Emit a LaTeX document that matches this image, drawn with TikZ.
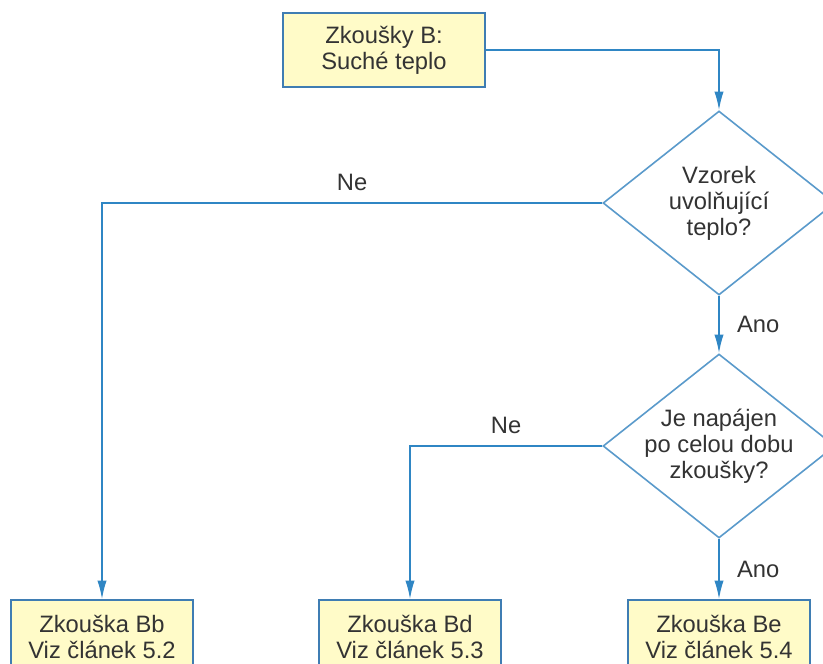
\documentclass[tikz,border=0pt]{standalone}
\usepackage{fontspec}
\setmainfont{Liberation Sans}
\usetikzlibrary{arrows.meta, shapes.geometric}
\definecolor{boxfill}{HTML}{FFFBC8}
\definecolor{boxline}{HTML}{3F7DB3}
\definecolor{dialine}{HTML}{5A9ACB}
\definecolor{flowline}{HTML}{2F86C4}
\definecolor{txtcolor}{HTML}{333333}

\begin{document}
\begin{tikzpicture}[
    x=0.75pt, y=-0.75pt,
    every node/.style={font=\fontsize{17.8pt}{19.5pt}\selectfont, text=txtcolor},
    testbox/.style={draw=boxline, fill=boxfill, line width=1.2pt, minimum width=136.5pt,
        minimum height=55.5pt, align=center, inner sep=0pt},
    question/.style={draw=dialine, fill=white, diamond, line width=1.2pt, minimum width=174pt,
        minimum height=138pt, inner sep=0pt},
    qtext/.style={align=center, inner sep=0pt},
    flow/.style={draw=flowline, line width=1.2pt, -{Latex[length=14pt, width=7pt]}},
    answer/.style={inner sep=2pt}
]
  % Frame of the picture, cut at the edges
  \useasboundingbox (0,0) rectangle (823,663);
  \clip (0,0) rectangle (823,663);

  % Start box and the two questions
  \node[testbox, minimum width=151.5pt] (start) at (384,50) {Zkoušky B:\\Suché teplo};
  \node[question] (q1) at (719,203) {};
  \node[qtext] (q1text) at (q1) {Vzorek\\uvolňující\\teplo?};
  \node[question] (q2) at (719,446) {};
  \node[qtext] (q2text) at (q2) {Je napájen\\po celou dobu\\zkoušky?};

  % Test boxes at the bottom
  \node[testbox] (bb) at (102,637) {Zkouška Bb\\Viz článek 5.2};
  \node[testbox] (bd) at (410,637) {Zkouška Bd\\Viz článek 5.3};
  \node[testbox] (be) at (719,637) {Zkouška Be\\Viz článek 5.4};

  % Connectors with the answers
  \draw[flow] (start.east) -| (q1.north);
  \draw[flow] (q1.west) -| node[answer, above=6.5pt, pos=0.25] (ne1) {Ne} (bb.north);
  \draw[flow] (q1.south) -- node[answer, right=11pt] (ano1) {Ano} (q2.north);
  \draw[flow] (q2.west) -| node[answer, above=6.5pt, pos=0.25] (ne2) {Ne} (bd.north);
  \draw[flow] (q2.south) -- node[answer, right=11pt] (ano2) {Ano} (be.north);
\end{tikzpicture}
\end{document}
